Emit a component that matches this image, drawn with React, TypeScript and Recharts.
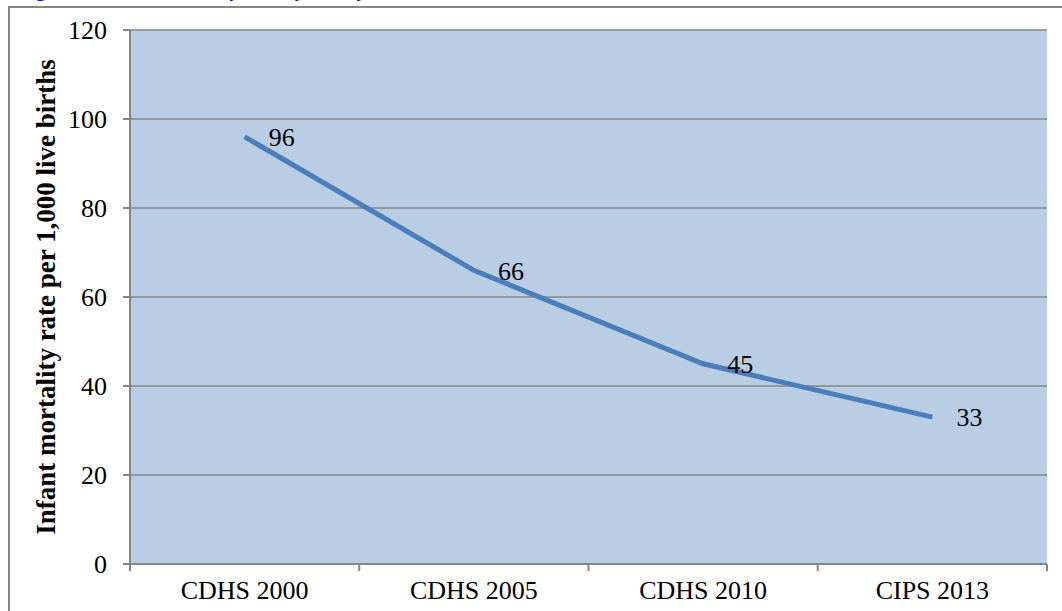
import React from 'react';
import { LineChart, Line, XAxis, YAxis, CartesianGrid, LabelList } from 'recharts';

const surveys = ['CDHS 2000', 'CDHS 2005', 'CDHS 2010', 'CIPS 2013'];
const infantMortality = [96, 66, 45, 33];
const yTicks = [0, 20, 40, 60, 80, 100, 120];

const data = surveys.map((survey, i) => ({ survey, rate: infantMortality[i] }));

const W = 1062;
const H = 611;
const MARGIN = { top: 30, right: 15, bottom: 0, left: 0 };
const Y_AXIS_W = 130;
const X_AXIS_H = 47;
const FONT = '"Liberation Serif", "Times New Roman", serif';
const GREY = '#868686';

// half of one category band, used to put x tick marks on band edges like Excel does
const HALF_BAND = (W - MARGIN.left - MARGIN.right - Y_AXIS_W) / surveys.length / 2;

const XTick = (props: any) => {
    const { x, index } = props;
    const axisY = H - X_AXIS_H;
    return (
        <g>
            <line x1={x - HALF_BAND} x2={x - HALF_BAND} y1={axisY} y2={axisY + 7} stroke={GREY} strokeWidth={2} />
            {index === surveys.length - 1 && (
                <line x1={x + HALF_BAND} x2={x + HALF_BAND} y1={axisY} y2={axisY + 7} stroke={GREY} strokeWidth={2} />
            )}
            <text x={x} y={axisY + 26} textAnchor="middle" dominantBaseline="central" fill="#000" fontSize={26} fontFamily={FONT}>
                {props.payload.value}
            </text>
        </g>
    );
};

const YTitle = () => (
    <text
        x={46}
        y={297}
        transform="rotate(-90 46 297)"
        textAnchor="middle"
        dominantBaseline="central"
        fontSize={27}
        fontWeight="bold"
        fontFamily={FONT}
        fill="#000"
    >
        Infant mortality rate per 1,000 live births
    </text>
);

export default function App() {
    return (
        <div style={{ position: 'absolute', left: 0, top: 0, width: W, height: H, overflow: 'hidden', background: '#fff' }}>
            <div
                style={{
                    position: 'absolute',
                    left: 18,
                    top: -21,
                    whiteSpace: 'nowrap',
                    color: '#0000ff',
                    fontFamily: FONT,
                    fontWeight: 'bold',
                    fontSize: 20,
                    lineHeight: '20px',
                }}
            >
                Figure 3: Infant mortality rate by survey, Cambodia 2000–2013
            </div>
            <div
                style={{
                    position: 'absolute',
                    left: 8,
                    top: 6,
                    width: W,
                    height: H,
                    border: `2px solid ${GREY}`,
                    boxSizing: 'border-box',
                }}
            />
            <div style={{ position: 'absolute', left: 0, top: 0 }}>
                <LineChart width={W} height={H} data={data} margin={MARGIN}>
                    <CartesianGrid vertical={false} stroke={GREY} strokeWidth={1.5} fill="#B9CDE5" fillOpacity={1} />
                    <XAxis
                        dataKey="survey"
                        height={X_AXIS_H}
                        padding={{ left: HALF_BAND, right: HALF_BAND }}
                        axisLine={{ stroke: GREY, strokeWidth: 2 }}
                        tickLine={false}
                        tick={<XTick />}
                        interval={0}
                    />
                    <YAxis
                        width={Y_AXIS_W}
                        domain={[0, 120]}
                        ticks={yTicks}
                        interval={0}
                        axisLine={{ stroke: GREY, strokeWidth: 2 }}
                        tickLine={{ stroke: GREY, strokeWidth: 2 }}
                        tickSize={7}
                        tickMargin={16}
                        tick={{ fill: '#000', fontSize: 26, fontFamily: FONT }}
                        label={<YTitle />}
                    />
                    <Line
                        type="linear"
                        dataKey="rate"
                        stroke="#4A7EBB"
                        strokeWidth={5}
                        dot={false}
                        isAnimationActive={false}
                    >
                        <LabelList
                            dataKey="rate"
                            position="right"
                            offset={24}
                            fill="#000"
                            fontSize={26}
                            fontFamily={FONT}
                        />
                    </Line>
                </LineChart>
            </div>
        </div>
    );
}
